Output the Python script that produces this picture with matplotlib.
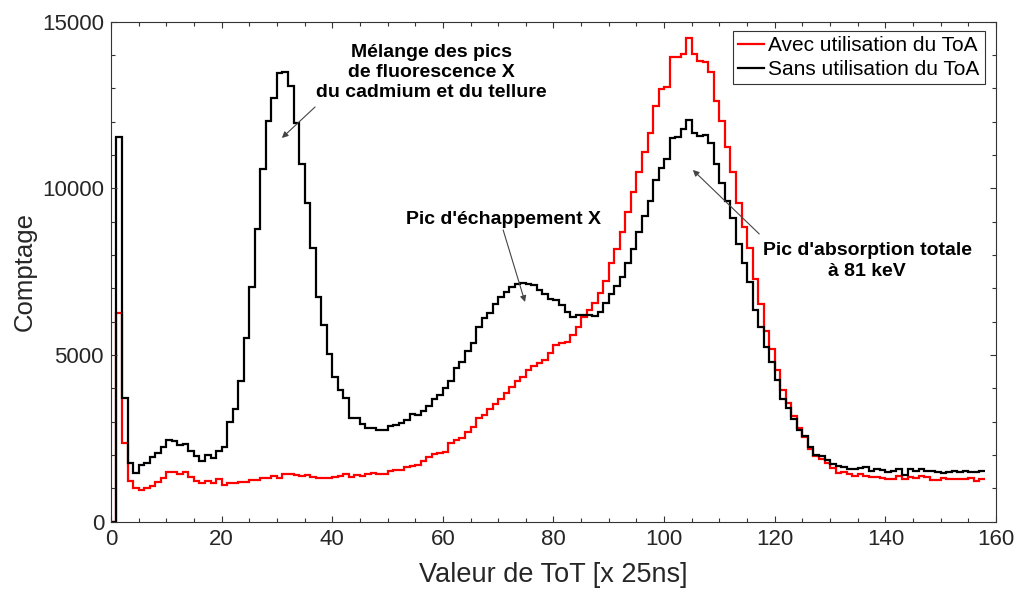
import numpy as np
import matplotlib
matplotlib.use("Agg")
import matplotlib.pyplot as plt
from matplotlib.ticker import MultipleLocator

# Histogram of ToT values (bins of width 1, from ToT = 1 to 158)
tot_edges = np.arange(0, 159)

# Counts without ToA selection
counts_sans_toa = [
    0,
    11550, 3700, 1750, 1450, 1700, 1770, 1930, 2070, 2230, 2450,
    2420, 2300, 2330, 2130, 1970, 1830, 2000, 1920, 2130, 2230,
    3000, 3380, 4230, 5500, 7050, 8770, 10570, 12030, 12700, 13470,
    13500, 13070, 11970, 10720, 9550, 8200, 6750, 5900, 5020, 4350,
    3950, 3700, 3100, 3100, 2930, 2800, 2800, 2750, 2750, 2870,
    2900, 2950, 3050, 3220, 3190, 3330, 3480, 3670, 3800, 4020,
    4220, 4600, 4800, 5130, 5360, 5850, 6100, 6250, 6530, 6750,
    6900, 7050, 7120, 7170, 7130, 7100, 6950, 6830, 6670, 6650,
    6500, 6300, 6150, 6200, 6200, 6200, 6180, 6300, 6550, 6820,
    7070, 7350, 7750, 8170, 8700, 9170, 9630, 10250, 10600, 10870,
    11500, 11530, 11770, 12050, 11670, 11570, 11600, 11350, 10730, 10170,
    9630, 9100, 8330, 7750, 7200, 6350, 5850, 5250, 4790, 4250,
    3670, 3420, 3080, 2760, 2580, 2230, 2000, 1960, 1850, 1720,
    1670, 1640, 1580, 1580, 1600, 1630, 1530, 1570, 1550, 1500,
    1530, 1570, 1400, 1570, 1530, 1580, 1530, 1520, 1480, 1450,
    1500, 1530, 1480, 1530, 1500, 1480, 1520,
]

# Counts with ToA selection
counts_avec_toa = [
    0,
    6270, 2370, 1230, 1000, 950, 1000, 1070, 1200, 1300, 1490,
    1490, 1430, 1490, 1350, 1220, 1170, 1230, 1170, 1270, 1100,
    1170, 1170, 1200, 1190, 1250, 1250, 1300, 1320, 1370, 1320,
    1430, 1430, 1400, 1380, 1400, 1350, 1300, 1300, 1300, 1350,
    1370, 1420, 1350, 1400, 1380, 1420, 1450, 1430, 1420, 1530,
    1550, 1550, 1650, 1680, 1700, 1820, 1950, 2030, 2070, 2100,
    2350, 2450, 2500, 2690, 2850, 3100, 3200, 3370, 3530, 3670,
    3850, 4030, 4220, 4350, 4550, 4670, 4770, 4850, 5050, 5300,
    5350, 5400, 5600, 5850, 6130, 6350, 6550, 6850, 7220, 7750,
    8170, 8700, 9300, 9900, 10500, 11100, 11650, 12470, 12970, 13050,
    13930, 13930, 14030, 14500, 14030, 13830, 13780, 13500, 12630, 12030,
    11250, 10500, 9550, 8830, 8220, 7270, 6530, 5730, 5190, 4550,
    3950, 3550, 3170, 2800, 2540, 2180, 1970, 1880, 1750, 1600,
    1470, 1500, 1420, 1370, 1420, 1370, 1350, 1350, 1300, 1280,
    1280, 1370, 1270, 1350, 1300, 1380, 1330, 1250, 1250, 1300,
    1290, 1270, 1290, 1270, 1300, 1220, 1270,
]

legend_labels = ["Avec utilisation du ToA", "Sans utilisation du ToA"]

plt.rcParams["font.family"] = ["Liberation Sans", "DejaVu Sans"]

fig = plt.figure(figsize=(10.18, 5.89), dpi=100)
ax = fig.add_axes([0.109, 0.1143, 0.8694, 0.849])

ax.stairs(counts_avec_toa, tot_edges, baseline=None, color="#ff0000",
          linewidth=1.6, label=legend_labels[0])
ax.stairs(counts_sans_toa, tot_edges, baseline=None, color="black",
          linewidth=1.6, label=legend_labels[1])

ax.set_xlim(0, 160)
ax.set_ylim(0, 15000)
ax.xaxis.set_major_locator(MultipleLocator(20))
ax.xaxis.set_minor_locator(MultipleLocator(5))
ax.yaxis.set_major_locator(MultipleLocator(5000))
ax.yaxis.set_minor_locator(MultipleLocator(1000))

axis_color = "#333333"
for sp in ax.spines.values():
    sp.set_color(axis_color)
    sp.set_linewidth(0.8)
ax.tick_params(which="both", direction="in", top=True, right=True,
               color=axis_color, width=0.8)
ax.tick_params(which="major", length=4.5, labelsize=16, labelcolor="#262626", pad=5)
ax.tick_params(which="minor", length=3)

ax.set_xlabel("Valeur de ToT [x 25ns]", fontsize=19.5, color="#262626", labelpad=9)
ax.set_ylabel("Comptage", fontsize=18.5, color="#262626", labelpad=4)

leg = ax.legend(loc="upper right", bbox_to_anchor=(0.992, 0.99), fontsize=15,
                handlelength=1.25, handletextpad=0.2, borderpad=0.25,
                labelspacing=0.25, borderaxespad=0.2, fancybox=False,
                framealpha=1)
leg.get_frame().set_edgecolor("#333333")
leg.get_frame().set_linewidth(0.8)

arrow_kw = dict(arrowstyle="-|>", color="#444444", lw=0.8, mutation_scale=9,
                shrinkA=0, shrinkB=0)
text_kw = dict(fontsize=14, fontweight="bold", ha="center", va="center",
               linespacing=1.25)

ax.text(58.0, 13470, "Mélange des pics\nde fluorescence X\ndu cadmium et du tellure",
        **text_kw)
ax.annotate("", xy=(30.9, 11510), xytext=(36.9, 12440), arrowprops=arrow_kw)

ax.text(70.9, 9050, "Pic d'échappement X", **text_kw)
ax.annotate("", xy=(74.85, 6590), xytext=(70.9, 8750), arrowprops=arrow_kw)

ax.text(136.7, 7820, "Pic d'absorption totale\nà 81 keV", **text_kw)
ax.annotate("", xy=(105.2, 10550), xytext=(117.2, 8630), arrowprops=arrow_kw)

fig.savefig("out.png", dpi=100)
